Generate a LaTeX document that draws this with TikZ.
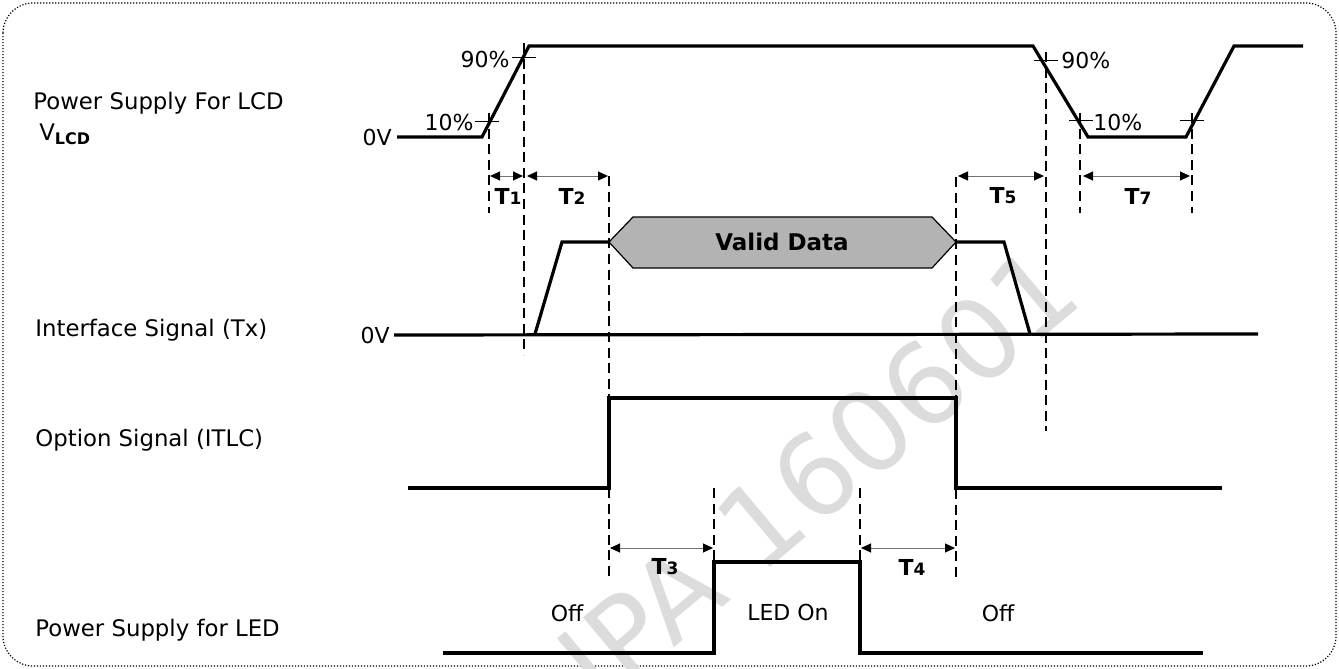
\documentclass[tikz,border=0pt]{standalone}
\usepackage{fontspec}
\setmainfont{DejaVu Sans}
\usetikzlibrary{arrows.meta}
\definecolor{DataGray}{HTML}{B3B3B3}
\definecolor{MarkGray}{HTML}{DCDCDC}
\newcommand{\tname}[1]{T{\fontsize{8.5pt}{8.5pt}\selectfont #1}}

\begin{document}
\begin{tikzpicture}[x=0.5pt,y=-0.5pt,
    every node/.style={inner sep=1pt,font=\fontsize{11pt}{13pt}\selectfont},
    signal/.style={line width=1.6pt,line join=miter},
    guide/.style={line width=1.3pt,dash pattern=on 5pt off 2.8pt},
    tick/.style={line width=0.5pt},
    span/.style={draw=black!55,line width=0.5pt,
      {Triangle[black,length=5pt,width=4.5pt]}-{Triangle[black,length=5pt,width=4.5pt]}},
    spanlabel/.style={font=\fontsize{11pt}{13pt}\selectfont\bfseries},
    rowlabel/.style={anchor=west,font=\fontsize{11.4pt}{13pt}\selectfont}]
  \useasboundingbox (0,0) rectangle (1339,669);
  \draw[line width=0.6pt,dash pattern=on 0.6pt off 0.9pt,rounded corners=15pt]
    (3,3) rectangle (1336,666);

  % watermark
  \node[text=MarkGray,rotate=40,font=\fontsize{56pt}{56pt}\selectfont] (mark) at (818,474) {IPA 160601};

  % row labels
  \node[rowlabel] (lcd) at (31,103) {Power Supply For LCD};
  \node[rowlabel] (vlcd) at (37,134) {V\textsubscript{\bfseries LCD}};
  \node[rowlabel] (tx) at (33,330) {Interface Signal (Tx)};
  \node[rowlabel] (itlc) at (33,440) {Option Signal (ITLC)};
  \node[rowlabel] (led) at (33,630) {Power Supply for LED};

  % timing guides
  \coordinate (g1) at (489,113);  \coordinate (g1e) at (489,213);
  \coordinate (g2) at (524,43);   \coordinate (g2e) at (524,355);
  \coordinate (g3) at (609,176);  \coordinate (g3e) at (609,577);
  \coordinate (g4) at (956,177);  \coordinate (g4e) at (956,577);
  \coordinate (g5) at (1046,52);  \coordinate (g5e) at (1046,431);
  \coordinate (g6) at (1080,113); \coordinate (g6e) at (1080,213);
  \coordinate (g7) at (1192,113); \coordinate (g7e) at (1192,213);
  \coordinate (g8) at (714,488);  \coordinate (g8e) at (714,560);
  \coordinate (g9) at (860,488);  \coordinate (g9e) at (860,560);
  \draw[guide] (g1) -- (g1e);
  \draw[guide] (g2) -- (g2e);
  \draw[guide] (g3) -- (g3e);
  \draw[guide] (g4) -- (g4e);
  \draw[guide] (g5) -- (g5e);
  \draw[guide] (g6) -- (g6e);
  \draw[guide] (g7) -- (g7e);
  \draw[guide] (g8) -- (g8e);
  \draw[guide] (g9) -- (g9e);

  % VLCD
  \node[anchor=east] (zero1) at (394,137) {0V};
  \draw[signal] (zero1.east) ++(3,0) -- (482,137) -- (529,46) -- (1033,46)
    -- (1088,137) -- (1186,137) -- (1234,46) -- (1303,46);
  \draw[tick] (475,121) -- (499,121);
  \draw[tick] (512,57) -- (536,57);
  \draw[tick] (1034,60) -- (1058,60);
  \draw[tick] (1069,120) -- (1093,120);
  \draw[tick] (1180,120) -- (1204,120);
  \node[anchor=east] (p10a) at (476,122) {10\%};
  \node[anchor=east] (p90a) at (512,59) {90\%};
  \node[anchor=west] (p90b) at (1059,60) {90\%};
  \node[anchor=west] (p10b) at (1091,122) {10\%};

  % interface signal
  \node[anchor=east] (zero2) at (392,335) {0V};
  \draw[signal] (zero2.east) ++(2,0) -- (1258,334);
  \draw[signal] (535,334) -- (562,242) -- (609,242);
  \draw[signal] (956,242) -- (1004,242) -- (1030,334);
  \draw[fill=DataGray,line width=0.6pt] (609,242) -- (633,217) -- (932,217)
    -- (956,242) -- (932,268) -- (633,268) -- cycle;
  \node[font=\fontsize{11.5pt}{13pt}\selectfont\bfseries] (valid) at (782,242) {Valid Data};

  % option signal
  \draw[signal] (408,488) -- (609,488) -- (609,398) -- (956,398) -- (956,488) -- (1222,488);

  % LED supply
  \draw[signal] (443,653) -- (714,653) -- (714,562) -- (860,562) -- (860,653) -- (1203,653);
  \node (off1) at (567,613) {Off};
  \node (ledon) at (788,612) {LED On};
  \node (off2) at (998,613) {Off};

  % spans
  \coordinate (t1a) at (490,176); \coordinate (t1b) at (523,176);
  \coordinate (t2a) at (527,176); \coordinate (t2b) at (608,176);
  \coordinate (t5a) at (958,176); \coordinate (t5b) at (1044,176);
  \coordinate (t7a) at (1083,176); \coordinate (t7b) at (1190,176);
  \coordinate (t3a) at (610,548); \coordinate (t3b) at (713,548);
  \coordinate (t4a) at (861,548); \coordinate (t4b) at (955,548);
  \draw[span] (t1a) -- (t1b);
  \draw[span] (t2a) -- (t2b);
  \draw[span] (t5a) -- (t5b);
  \draw[span] (t7a) -- (t7b);
  \draw[span] (t3a) -- (t3b);
  \draw[span] (t4a) -- (t4b);
  \node[spanlabel] (T1) at (508,196) {\tname{1}};
  \node[spanlabel] (T2) at (572,196) {\tname{2}};
  \node[spanlabel] (T5) at (1003,196) {\tname{5}};
  \node[spanlabel] (T7) at (1138,196) {\tname{7}};
  \node[spanlabel] (T3) at (665,567) {\tname{3}};
  \node[spanlabel] (T4) at (912,567) {\tname{4}};
\end{tikzpicture}
\end{document}
